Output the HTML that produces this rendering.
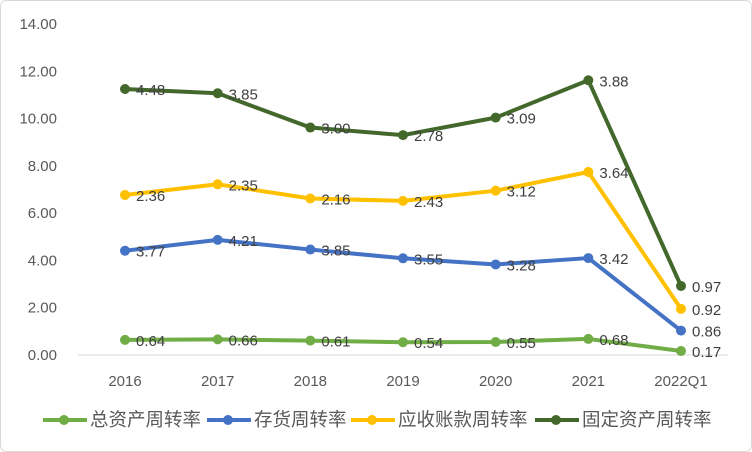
<!DOCTYPE html>
<html><head><meta charset="utf-8"><style>
body{margin:0;background:#fff;}
svg{display:block;font-family:"Liberation Sans","Noto Sans CJK SC",sans-serif;}
</style></head><body>
<svg id="chart" width="752" height="452">
<rect x="0.5" y="0.5" width="751" height="451" rx="6" fill="#fff" stroke="#d9d9d9"/>
<g id="g"></g>
</svg>
<script>
const categories=["2016","2017","2018","2019","2020","2021","2022Q1"];
const totalAsset=[0.64,0.66,0.61,0.54,0.55,0.68,0.17];
const inventory=[3.77,4.21,3.85,3.55,3.28,3.42,0.86];
const receivable=[2.36,2.35,2.16,2.43,3.12,3.64,0.92];
const fixedAsset=[4.48,3.85,3.00,2.78,3.09,3.88,0.97];
const yTicks=[0,2,4,6,8,10,12,14];
const seriesNames=["总资产周转率","存货周转率","应收账款周转率","固定资产周转率"];
const colors=["#70ad47","#4472c4","#ffc000","#43682b"];
const NS="http://www.w3.org/2000/svg";
const g=document.getElementById('g');
const y=v=>355-v*(331/14);
const x=i=>125+i*(556/6);
function el(t,a){const e=document.createElementNS(NS,t);for(const k in a)e.setAttribute(k,a[k]);g.appendChild(e);return e;}
yTicks.forEach(t=>{const e=el('text',{x:57,y:y(t)+5,'text-anchor':'end','font-size':15,fill:'#595959'});e.textContent=t.toFixed(2);

});
const ax=el('line',{x1:78,x2:728,y1:y(0),y2:y(0),stroke:'#d9d9d9','stroke-width':1});


categories.forEach((c,i)=>{const e=el('text',{x:x(i),y:386,'text-anchor':'middle','font-size':15,fill:'#595959'});e.textContent=c;

});
const raw=[totalAsset,inventory,receivable,fixedAsset];
let cum=categories.map(()=>0);
const stacked=raw.map(s=>{cum=cum.map((v,i)=>v+s[i]);return cum.slice();});
raw.forEach((s,k)=>{
 const st=stacked[k];
 const p=el('polyline',{points:st.map((v,i)=>x(i)+','+y(v)).join(' '),fill:'none',stroke:colors[k],'stroke-width':4,'stroke-linejoin':'round'});
 
 
 st.forEach((v,i)=>{
  const c=el('circle',{cx:x(i),cy:y(v),r:5,fill:colors[k]});
  
  
  const t=el('text',{x:x(i)+11,y:y(v)+6,'font-size':15,fill:'#404040'});t.textContent=s[i].toFixed(2);
  
  
 });
});
const lx=[43,207,351,535];
seriesNames.forEach((n,k)=>{
 const l=el('line',{x1:lx[k],x2:lx[k]+44,y1:420,y2:420,stroke:colors[k],'stroke-width':4});
 
 
 const c=el('circle',{cx:lx[k]+21,cy:420,r:5,fill:colors[k]});
 
 
 const t=el('text',{x:lx[k]+47,y:426,'font-size':18.5,fill:'#595959'});t.textContent=n;
 
 
});
</script>
</body></html>
